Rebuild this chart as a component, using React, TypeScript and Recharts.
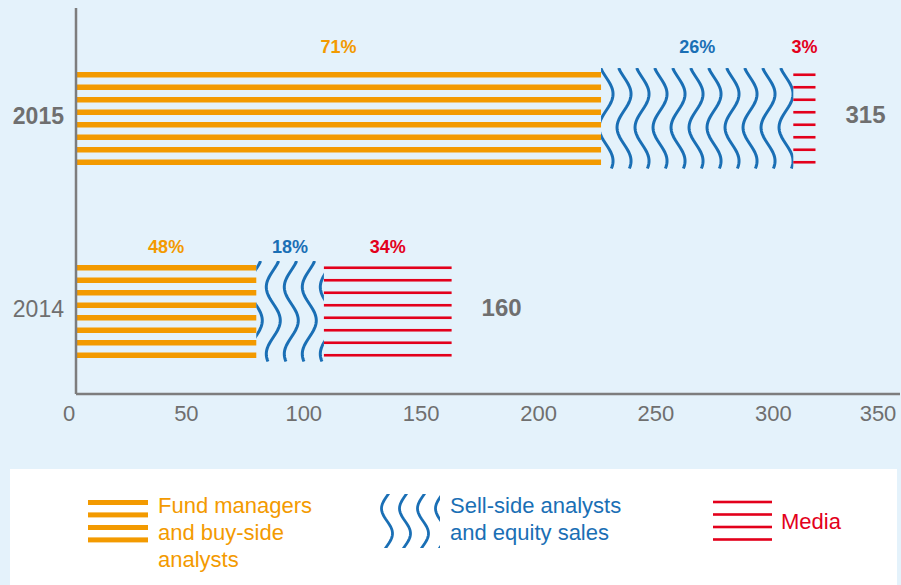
import React from "react";
import { BarChart, Bar, XAxis, YAxis, LabelList } from "recharts";

// values
const years = ["2015", "2014"];
const totals = [315, 160];
const fundPct = [71, 48];
const sellPct = [26, 18];
const mediaPct = [3, 34];
const xTicks = [0, 50, 100, 150, 200, 250, 300, 350];

const ORANGE = "#f39a00";
const BLUE = "#1a6fb5";
const RED = "#e3001b";
const GREY = "#6f6f6f";
const AXIS = "#7d7d7d";
const BG = "#e4f2fb";
const FONT = "'Liberation Sans', Arial, Helvetica, sans-serif";

const data = years.map((year, i) => ({
  year,
  total: totals[i],
  fundPct: fundPct[i],
  sellPct: sellPct[i],
  mediaPct: mediaPct[i],
  fund: (totals[i] * fundPct[i]) / 100,
  sell: (totals[i] * sellPct[i]) / 100,
  media: (totals[i] * mediaPct[i]) / 100,
}));

// centres of the 8 stripes inside a bar
function stripeCentres(y: number, h: number) {
  const step = (h - 5.5) / 7;
  return Array.from({ length: 8 }, (_, i) => y + 2.75 + i * step);
}

function OrangeShape(props: any) {
  const { x, y, width, height } = props;
  return (
    <g>
      {stripeCentres(y, height).map((c, i) => (
        <rect key={i} x={x} y={c - 2.75} width={width} height={5.5} fill={ORANGE} />
      ))}
    </g>
  );
}

function RedShape(props: any) {
  const { x, y, width, height } = props;
  return (
    <g>
      {stripeCentres(y, height).map((c, i) => (
        <rect key={i} x={x} y={c - 1.3} width={width} height={2.6} fill={RED} />
      ))}
    </g>
  );
}

// vertical wavy line, extreme at top + shift
function wavePath(xc: number, top: number, h: number, amp: number, period: number, shift: number) {
  let d = "";
  for (let yy = top - 4; yy <= top + h + 4; yy += 1.5) {
    const xx = xc + amp * Math.cos((2 * Math.PI * (yy - top - shift)) / period);
    d += (d ? " L" : "M") + xx.toFixed(2) + " " + yy.toFixed(2);
  }
  return d;
}

function BlueShape(props: any) {
  const { x, y, width, height, index } = props;
  const id = `wclip-${index}`;
  const amp = index === 0 ? 7 : -7;
  const start = index === 0 ? x + 5 - 18 : x - 1;
  const lines = [];
  for (let xc = start; xc - 8 < x + width; xc += 18) lines.push(xc);
  return (
    <g>
      <defs>
        <clipPath id={id}>
          <rect x={x} y={y - 4} width={width} height={height + 8} />
        </clipPath>
      </defs>
      <g clipPath={`url(#${id})`}>
        {lines.map((xc, i) => (
          <path key={i} d={wavePath(xc, y, height, amp, 67, 22)} fill="none" stroke={BLUE} strokeWidth={3} />
        ))}
      </g>
    </g>
  );
}

function pctLabel(color: string) {
  return (p: any) => (
    <text
      x={p.x + p.width / 2}
      y={p.y - (p.index === 0 ? 19 : 12)}
      textAnchor="middle"
      fill={color}
      fontSize={18}
      fontWeight={700}
      fontFamily={FONT}
    >
      {p.value}%
    </text>
  );
}

function TotalLabel(p: any) {
  return (
    <text
      x={p.x + p.width + 30}
      y={p.y + p.height / 2 - 4}
      dominantBaseline="central"
      fill={GREY}
      fontSize={24}
      fontWeight={700}
      fontFamily={FONT}
    >
      {p.value}
    </text>
  );
}

function XTick(p: any) {
  const tx = Math.min(p.x - 7, 878);
  return (
    <text x={tx} y={413} textAnchor="middle" dominantBaseline="central" fill={GREY} fontSize={22} fontFamily={FONT}>
      {p.payload.value}
    </text>
  );
}

function YTick(p: any) {
  const bold = p.payload.value === "2015";
  return (
    <text
      x={64}
      y={p.y - 3}
      textAnchor="end"
      dominantBaseline="central"
      fill={GREY}
      fontSize={23}
      fontWeight={bold ? 700 : 400}
      fontFamily={FONT}
    >
      {p.payload.value}
    </text>
  );
}

function LegendBox() {
  const bluePaths = [377, 395, 413, 431].map((xc) => wavePath(xc, 27, 50, -5.5, 50, 12.5));
  return (
    <svg width={887} height={116} style={{ display: "block" }}>
      {[31, 43.4, 56, 68.4].map((y, i) => (
        <rect key={i} x={78} y={y} width={60} height={5} fill={ORANGE} />
      ))}
      <text fill={ORANGE} fontSize={22} fontFamily={FONT}>
        <tspan x={148} y={36} dominantBaseline="central">Fund managers</tspan>
        <tspan x={148} y={63} dominantBaseline="central">and buy-side</tspan>
        <tspan x={148} y={90} dominantBaseline="central">analysts</tspan>
      </text>

      <defs>
        <clipPath id="legend-wave">
          <rect x={370} y={25} width={60} height={54} />
        </clipPath>
      </defs>
      <g clipPath="url(#legend-wave)">
        {bluePaths.map((d, i) => (
          <path key={i} d={d} fill="none" stroke={BLUE} strokeWidth={2.8} />
        ))}
      </g>
      <text fill={BLUE} fontSize={22} fontFamily={FONT}>
        <tspan x={440} y={36} dominantBaseline="central">Sell-side analysts</tspan>
        <tspan x={440} y={63} dominantBaseline="central">and equity sales</tspan>
      </text>

      {[33, 45.5, 58, 70.5].map((y, i) => (
        <rect key={i} x={703} y={y - 1.3} width={59} height={2.6} fill={RED} />
      ))}
      <text x={771} y={52} dominantBaseline="central" fill={RED} fontSize={22} fontFamily={FONT}>
        Media
      </text>
    </svg>
  );
}

export default function App() {
  return (
    <div
      style={{
        position: "absolute",
        left: 0,
        top: 0,
        width: 901,
        height: 585,
        background: BG,
        fontFamily: FONT,
        overflow: "hidden",
      }}
    >
      <BarChart
        width={901}
        height={469}
        data={data}
        layout="vertical"
        margin={{ top: 8, right: 1, left: 0, bottom: 45 }}
      >
        <XAxis
          type="number"
          domain={[0, 351]}
          ticks={xTicks}
          allowDataOverflow
          axisLine={{ stroke: AXIS, strokeWidth: 2.5 }}
          tickLine={false}
          tick={<XTick />}
          height={30}
        />
        <YAxis
          type="category"
          dataKey="year"
          width={76}
          padding={{ top: 14, bottom: -14 }}
          axisLine={{ stroke: AXIS, strokeWidth: 2.5 }}
          tickLine={false}
          tick={<YTick />}
        />
        <Bar dataKey="fund" stackId="a" barSize={93} fill={ORANGE} shape={<OrangeShape />} isAnimationActive={false}>
          <LabelList dataKey="fundPct" content={pctLabel(ORANGE)} />
        </Bar>
        <Bar dataKey="sell" stackId="a" barSize={93} fill={BLUE} shape={<BlueShape />} isAnimationActive={false}>
          <LabelList dataKey="sellPct" content={pctLabel(BLUE)} />
        </Bar>
        <Bar dataKey="media" stackId="a" barSize={93} fill={RED} shape={<RedShape />} isAnimationActive={false}>
          <LabelList dataKey="mediaPct" content={pctLabel(RED)} />
          <LabelList dataKey="total" content={<TotalLabel />} />
        </Bar>
      </BarChart>
      <div style={{ position: "absolute", left: 10, top: 469, width: 887, height: 116, background: "#ffffff" }}>
        <LegendBox />
      </div>
    </div>
  );
}
